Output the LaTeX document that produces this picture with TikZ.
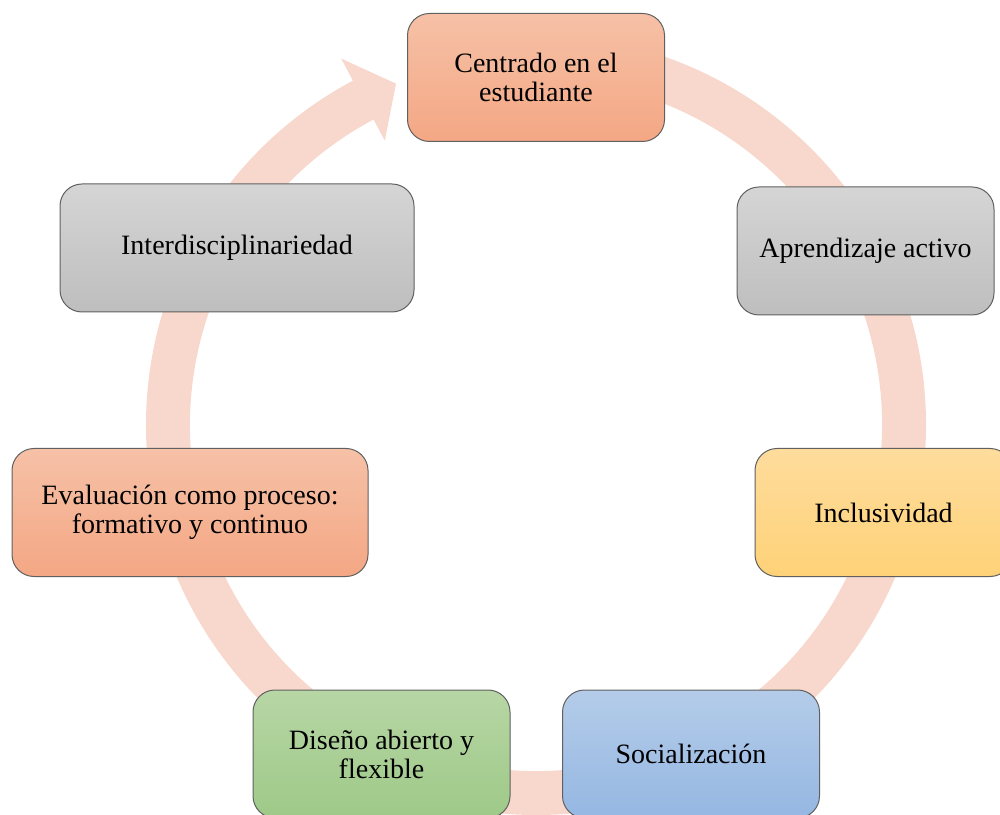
\documentclass[tikz,border=0pt]{standalone}
\usepackage{fontspec}
\setmainfont{Liberation Serif}
\definecolor{ringc}{RGB}{248,216,204}
\definecolor{edgec}{RGB}{96,96,96}
\definecolor{orTop}{RGB}{246,193,167}
\definecolor{orBot}{RGB}{244,167,132}
\definecolor{grTop}{RGB}{213,213,213}
\definecolor{grBot}{RGB}{190,190,190}
\definecolor{yeTop}{RGB}{254,220,156}
\definecolor{yeBot}{RGB}{254,210,120}
\definecolor{blTop}{RGB}{180,204,233}
\definecolor{blBot}{RGB}{149,183,226}
\definecolor{gnTop}{RGB}{183,214,165}
\definecolor{gnBot}{RGB}{158,201,136}
\tikzset{
  card/.style={draw=edgec, line width=1pt, rounded corners=22pt,
    minimum height=128pt, align=center, inner sep=4pt,
    font=\fontsize{28}{29}\selectfont},
  orangecard/.style={card, top color=orTop, bottom color=orBot},
  graycard/.style={card, top color=grTop, bottom color=grBot},
  yellowcard/.style={card, top color=yeTop, bottom color=yeBot},
  bluecard/.style={card, top color=blTop, bottom color=blBot},
  greencard/.style={card, top color=gnTop, bottom color=gnBot},
}
\begin{document}
\begin{tikzpicture}[x=1pt, y=1pt]
\useasboundingbox (0,0) rectangle (1000,814);
\clip (0,0) rectangle (1000,814);

% circular band with its arrowhead, running clockwise
\begin{scope}[shift={(536,389)}]
  \fill[ringc] (85:390) arc[start angle=85, end angle=-242, radius=390pt]
    -- (-242:415) -- (-247.7:369) -- (-242:322) -- (-242:346)
    arc[start angle=-242, end angle=85, radius=346pt] -- cycle;
\end{scope}

% the seven stages
\node[orangecard, minimum width=257pt] (centrado) at (536,736.5) {Centrado en el\\estudiante};
\node[graycard, minimum width=257pt] (activo) at (865.5,563) {Aprendizaje activo};
\node[yellowcard, minimum width=257pt] (inclusiv) at (883.5,301.5) {Inclusividad};
\node[bluecard, minimum width=257pt] (social) at (691,60) {Socialización};
\node[greencard, minimum width=257pt] (diseno) at (381.5,60) {Diseño abierto y\\flexible};
\node[orangecard, minimum width=356pt] (evalua) at (190,301.5) {Evaluación como proceso:\\formativo y continuo};
\node[graycard, minimum width=354pt] (interd) at (237,566) {Interdisciplinariedad};
\end{tikzpicture}
\end{document}
